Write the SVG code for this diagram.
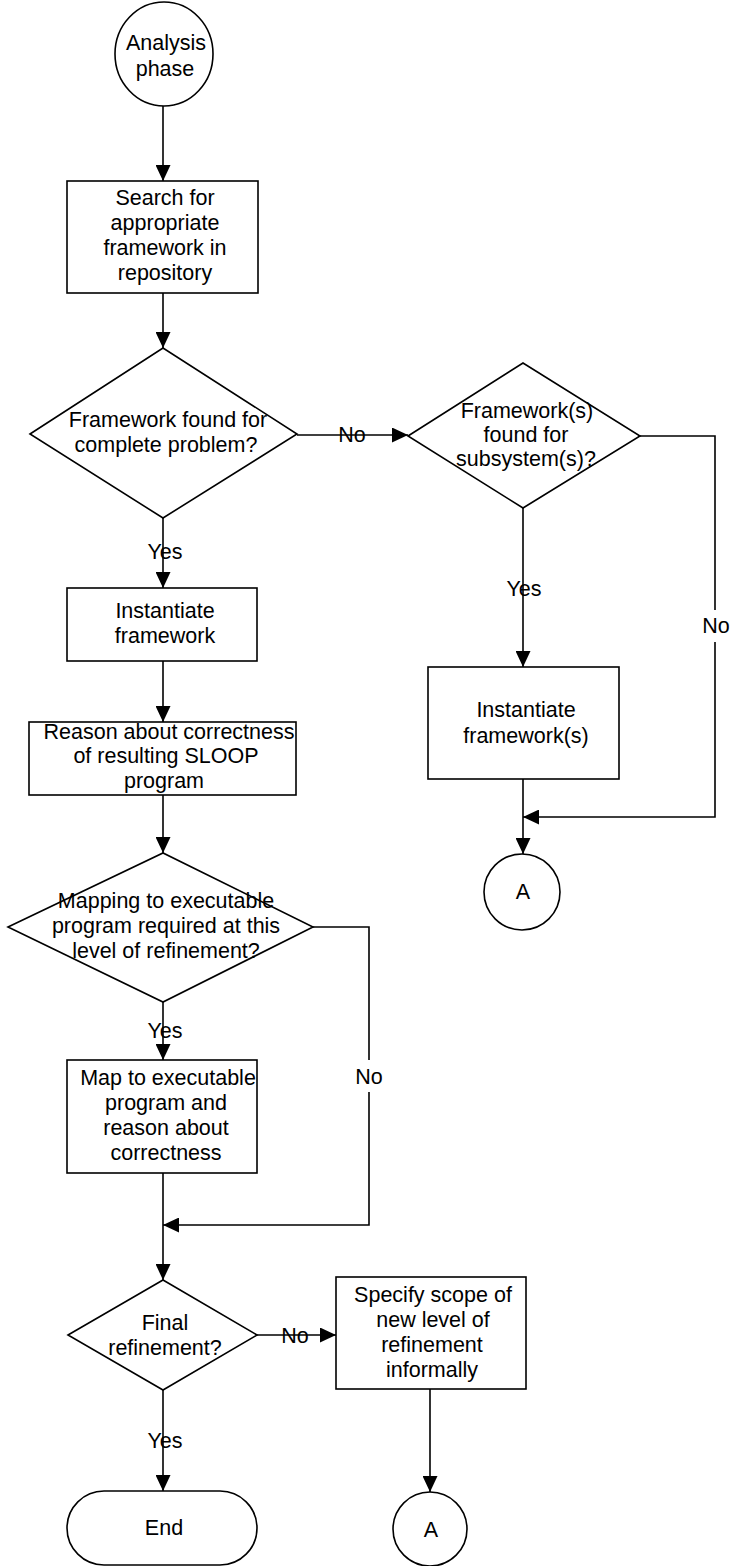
<svg xmlns="http://www.w3.org/2000/svg" width="731" height="1566" viewBox="0 0 731 1566">
  <style>
    .shape { fill: #ffffff; stroke: #000000; stroke-width: 1.6; }
    .wire { fill: none; stroke: #000000; stroke-width: 1.6; }
    text { font-family: "Liberation Sans", Arial, sans-serif; font-size: 21.5px; fill: #000000; text-anchor: middle; }
  </style>
  <defs>
    <marker id="arrow" markerUnits="userSpaceOnUse" markerWidth="16" markerHeight="15" refX="16" refY="7.5" orient="auto">
      <path d="M0,0 L16,7.5 L0,15 Z" fill="#000000"/>
    </marker>
  </defs>
  <rect width="731" height="1566" fill="#ffffff"/>

  <!-- connectors -->
  <g id="connectors">
    <path class="wire" d="M163,106 L163,181" marker-end="url(#arrow)"/>
    <path class="wire" d="M163,293 L163,348" marker-end="url(#arrow)"/>
    <path class="wire" d="M163,518 L163,588" marker-end="url(#arrow)"/>
    <path class="wire" d="M163,661 L163,722" marker-end="url(#arrow)"/>
    <path class="wire" d="M163,795 L163,853" marker-end="url(#arrow)"/>
    <path class="wire" d="M163,1002 L163,1060" marker-end="url(#arrow)"/>
    <path class="wire" d="M163,1173 L163,1280" marker-end="url(#arrow)"/>
    <path class="wire" d="M313,927 L369,927 L369,1060"/>
    <path class="wire" d="M369,1092 L369,1225 L163,1225" marker-end="url(#arrow)"/>
    <path class="wire" d="M163,1390 L163,1491" marker-end="url(#arrow)"/>
    <path class="wire" d="M257,1335 L336,1335" marker-end="url(#arrow)"/>
    <path class="wire" d="M430,1389 L430,1492" marker-end="url(#arrow)"/>
    <path class="wire" d="M297,435 L408,435" marker-end="url(#arrow)"/>
    <path class="wire" d="M523,508 L523,667" marker-end="url(#arrow)"/>
    <path class="wire" d="M640,436 L715,436 L715,610"/>
    <path class="wire" d="M715,642 L715,817 L523,817" marker-end="url(#arrow)"/>
    <path class="wire" d="M523,779 L523,854" marker-end="url(#arrow)"/>

    <text x="165" y="559">Yes</text>
    <text x="165" y="1038">Yes</text>
    <text x="165" y="1448">Yes</text>
    <text x="524" y="596">Yes</text>
    <text x="352" y="442">No</text>
    <text x="295" y="1343">No</text>
    <text x="369" y="1084">No</text>
    <text x="716" y="633">No</text>
  </g>

  <g id="start">
    <ellipse class="shape" cx="164" cy="54" rx="49" ry="52"/>
    <text x="166" y="50">Analysis</text>
    <text x="165" y="76">phase</text>
  </g>

  <g id="search">
    <rect class="shape" x="67" y="181" width="191" height="112"/>
    <text x="165" y="205">Search for</text>
    <text x="165" y="230">appropriate</text>
    <text x="165" y="255">framework in</text>
    <text x="165" y="280">repository</text>
  </g>

  <g id="found-complete">
    <polygon class="shape" points="30,434 163,348 297,434 163,518"/>
    <text x="168" y="427">Framework found for</text>
    <text x="166" y="452">complete problem?</text>
  </g>

  <g id="instantiate">
    <rect class="shape" x="67" y="588" width="190" height="73"/>
    <text x="165" y="618">Instantiate</text>
    <text x="165" y="643">framework</text>
  </g>

  <g id="reason">
    <rect class="shape" x="29" y="722" width="267" height="73"/>
    <text x="169" y="739">Reason about correctness</text>
    <text x="166" y="763">of resulting SLOOP</text>
    <text x="164" y="788">program</text>
  </g>

  <g id="mapping-required">
    <polygon class="shape" points="8,927 163,853 313,927 163,1002"/>
    <text x="166" y="908">Mapping to executable</text>
    <text x="166" y="933">program required at this</text>
    <text x="166" y="958">level of refinement?</text>
  </g>

  <g id="map-executable">
    <rect class="shape" x="67" y="1060" width="190" height="113"/>
    <text x="168" y="1085">Map to executable</text>
    <text x="166" y="1110">program and</text>
    <text x="166" y="1135">reason about</text>
    <text x="166" y="1160">correctness</text>
  </g>

  <g id="final-refinement">
    <polygon class="shape" points="68,1335 163,1280 257,1335 163,1390"/>
    <text x="165" y="1330">Final</text>
    <text x="165" y="1355">refinement?</text>
  </g>

  <g id="specify-scope">
    <rect class="shape" x="336" y="1277" width="190" height="112"/>
    <text x="433" y="1302">Specify scope of</text>
    <text x="433" y="1327">new level of</text>
    <text x="432" y="1352">refinement</text>
    <text x="432" y="1377">informally</text>
  </g>

  <g id="end">
    <rect class="shape" x="67" y="1491" width="190" height="74" rx="37" ry="37"/>
    <text x="164" y="1535">End</text>
  </g>

  <g id="connector-a-bottom">
    <circle class="shape" cx="430" cy="1529" r="37"/>
    <text x="431" y="1537">A</text>
  </g>

  <g id="found-subsystems">
    <polygon class="shape" points="408,436 523,363 640,436 523,508"/>
    <text x="527" y="418">Framework(s)</text>
    <text x="526" y="442">found for</text>
    <text x="526" y="466">subsystem(s)?</text>
  </g>

  <g id="instantiate-subsystems">
    <rect class="shape" x="428" y="667" width="191" height="112"/>
    <text x="526" y="717">Instantiate</text>
    <text x="526" y="743">framework(s)</text>
  </g>

  <g id="connector-a-top">
    <circle class="shape" cx="522" cy="892" r="38"/>
    <text x="523" y="899">A</text>
  </g>
</svg>
